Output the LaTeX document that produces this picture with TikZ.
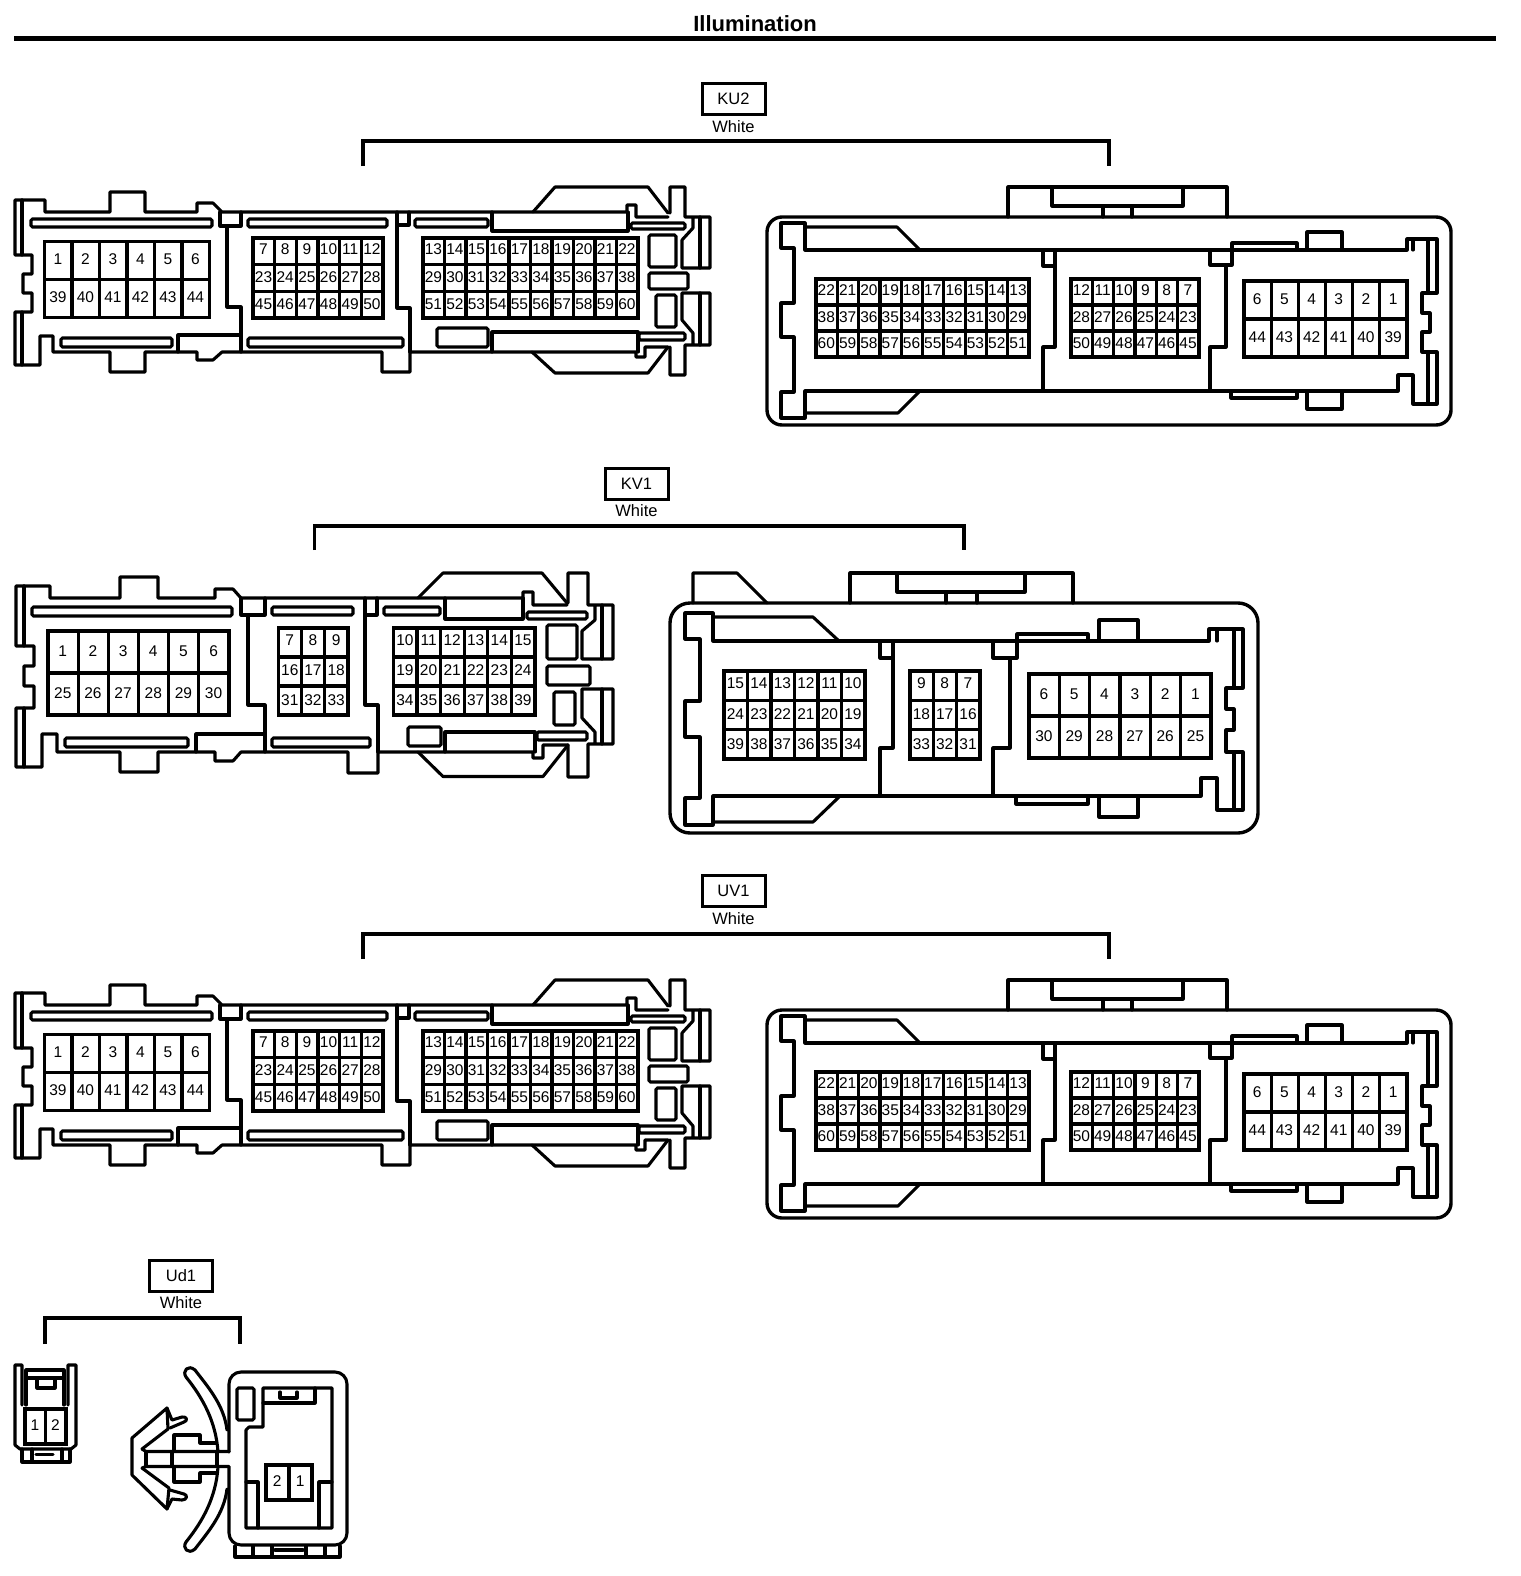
\documentclass[tikz,border=0pt]{standalone}
\usepackage{fontspec}
\setmainfont{Liberation Sans}
\tikzset{
  ln/.style={line width=3.1pt,line join=round,line cap=round},
  slot/.style={line width=3.1pt,rounded corners=1.5pt},
  outerbox/.style={line width=3.4pt,rounded corners=#1},
  pinframe/.style={line width=3.2pt,line join=miter},
  pinlabel/.style={inner sep=0pt,font=\fontsize{15.5}{16}\selectfont},
  tagbox/.style={draw,line width=3pt,minimum width=63pt,minimum height=31pt,inner sep=0pt,font=\fontsize{16.5}{17}\selectfont},
  tagnote/.style={inner sep=0pt,font=\fontsize{16.5}{17}\selectfont},
  bracketline/.style={line width=3.2pt,line join=miter},
}
\newcommand\pinblk[8]{%
  \draw[pinframe] (#2,#3) rectangle (#4,#5);
  \pgfmathsetmacro\pdx{(#4-#2)/#6}
  \pgfmathsetmacro\pdy{(#5-#3)/#7}
  \pgfmathtruncatemacro\pcm{#6-1}
  \pgfmathtruncatemacro\prm{#7-1}
  \foreach \k in {1,...,\pcm} \draw[pinframe] ({#2+\k*\pdx},#3) -- ({#2+\k*\pdx},#5);
  \foreach \k in {1,...,\prm} \draw[pinframe] (#2,{#3+\k*\pdy}) -- (#4,{#3+\k*\pdy});
  \foreach \t [count=\i from 0] in {#8} {
    \pgfmathtruncatemacro\pcc{mod(\i,#6)}
    \pgfmathtruncatemacro\prr{int(\i/#6)}
    \pgfmathsetmacro\pyy{#3+(\prr+.5)*\pdy-1+(#7==3)*((\prr==0)*(-1.2)+(\prr==2)*0.6)}
    \node[pinlabel] (#1-\t) at ({#2+(\pcc+.5)*\pdx-0.3},\pyy) {\t};
  }
}
\newcommand\kuleft[1]{%
  \draw[ln] (22,200)--(15,200)--(15,255)--(32,255)--(32,274)--(23,274)--(23,293)--(32,293)--(32,312)--(15,312)--(15,365)--(40,365)--(40,336)--(53,336)--(53,352)--(110,352)--(110,372)--(145,372)--(145,352)--(197,352)--(197,360)--(213,360)--(222,352)--(382,352)--(382,372)--(410,372)--(410,352)--(636,352)--(636,357)--(645,357)--(645,347)--(668,347);
  \draw[ln] (22,200)--(45,200)--(45,212)--(110,212)--(110,192)--(145,192)--(145,212)--(197,212)--(197,203)--(213,203)--(222,212)--(627,212)--(627,205)--(636,205)--(636,217)--(668,217);
  \draw[ln] (22,200)--(22,255) (22,312)--(22,365);
  \draw[ln] (533,212)--(555,187)--(648,187)--(668,213);
  \draw[ln] (532,352)--(555,373)--(648,373)--(668,347);
  \draw[ln] (670,213)--(670,187)--(685,187)--(685,217)--(710,217)--(710,268)--(682,268)--(682,240)--(693,228)--(693,217);
  \draw[ln] (700,217)--(700,268) (700,293)--(700,345);
  \draw[ln] (693,345)--(693,333)--(682,320)--(682,293)--(710,293)--(710,345)--(685,345)--(685,375)--(670,375)--(670,347);
  \draw[ln] (492,212)--(492,231)--(628,231)--(628,212);
  \draw[ln] (492,352)--(492,332)--(638,332)--(638,352);
  \draw[ln] (220,212)--(220,226)--(241,226)--(241,212);
  \draw[ln] (227,226)--(227,307)--(241,307)--(241,352);
  \draw[ln] (178,352)--(178,335)--(241,335);
  \draw[ln] (397,212)--(397,308)--(410,308)--(410,352);
  \draw[ln] (397,225)--(409,225)--(409,212);
  \draw[slot] (31,219) rectangle (212,227);
  \draw[slot] (61,338) rectangle (172,347);
  \draw[slot] (248,219) rectangle (387,227);
  \draw[slot] (248,338) rectangle (403,347);
  \draw[slot] (415,219) rectangle (488,227);
  \draw[slot] (437,328) rectangle (488,347);
  \draw[slot] (631,223) rectangle (685,229);
  \draw[slot] (639,333) rectangle (685,340);
  \draw[slot] (649,235) rectangle (676,267);
  \draw[slot] (649,273) rectangle (688,289);
  \draw[slot] (656,295) rectangle (676,327);
  \pinblk{#1la}{44.5}{241.5}{209.5}{317.5}{6}{2}{1,2,3,4,5,6,39,40,41,42,43,44}
  \pinblk{#1lb}{253}{238}{383}{318}{6}{3}{7,8,9,10,11,12,23,24,25,26,27,28,45,46,47,48,49,50}
  \pinblk{#1lc}{423}{238}{638}{318}{10}{3}{13,14,15,16,17,18,19,20,21,22,29,30,31,32,33,34,35,36,37,38,51,52,53,54,55,56,57,58,59,60}
}
\newcommand\kuright[1]{%
  \draw[outerbox=15pt] (767,217) rectangle (1451,425);
  \draw[ln] (1008,217)--(1008,187)--(1227,187)--(1227,217);
  \draw[ln] (1052,187)--(1052,206)--(1183,206)--(1183,187);
  \draw[ln] (1103,206)--(1103,217) (1132,206)--(1132,217);
  \draw[ln] (805,250)--(805,223)--(781,223)--(781,248)--(794,248)--(794,303)--(781,303)--(781,337)--(794,337)--(794,392)--(781,392)--(781,418)--(805,418)--(805,391)--(1398,391)--(1398,375)--(1413,375)--(1413,404)--(1437,404)--(1437,352)--(1422,352)--(1422,332)--(1430,332)--(1430,313)--(1422,313)--(1422,293)--(1437,293)--(1437,239)--(1407,239)--(1407,250)--cycle;
  \draw[ln] (1413,239)--(1413,250);
  \draw[ln] (1428,239)--(1428,293) (1428,352)--(1428,404);
  \draw[ln] (805,227)--(897,227)--(920,250);
  \draw[ln] (805,413)--(898,413)--(920,391);
  \draw[ln] (1043,250)--(1043,266)--(1055,266);
  \draw[ln] (1055,250)--(1055,347)--(1043,347)--(1043,391);
  \draw[ln] (1210,250)--(1210,265)--(1232,265)--(1232,243)--(1297,243)--(1297,250);
  \draw[ln] (1226,265)--(1226,347)--(1210,347)--(1210,391);
  \draw[ln] (1307,250)--(1307,232)--(1342,232)--(1342,250);
  \draw[ln] (1231,391)--(1231,398)--(1297,398)--(1297,391);
  \draw[ln] (1307,391)--(1307,409)--(1342,409)--(1342,391);
  \pinblk{#1ra}{816}{279}{1029}{357}{10}{3}{22,21,20,19,18,17,16,15,14,13,38,37,36,35,34,33,32,31,30,29,60,59,58,57,56,55,54,53,52,51}
  \pinblk{#1rb}{1071}{279}{1199}{357}{6}{3}{12,11,10,9,8,7,28,27,26,25,24,23,50,49,48,47,46,45}
  \pinblk{#1rc}{1244}{281}{1407}{357}{6}{2}{6,5,4,3,2,1,44,43,42,41,40,39}
}
\begin{document}
\begin{tikzpicture}[x=1pt,y=-1pt]
\useasboundingbox (0,0) rectangle (1520,1576);
\fill[white] (0,0) rectangle (1520,1576);
% title
\node[inner sep=0pt,font=\fontsize{22}{22}\selectfont\bfseries] (title) at (755,24) {Illumination};
\draw[line width=5pt] (14,38.5) -- (1496,38.5);
% KU2
\node[tagbox] (ku2) at (733.5,99) {KU2};
\node[tagnote] (ku2note) at (733.5,127) {White};
\draw[bracketline] (363,166)--(363,141)--(1109,141)--(1109,166);
\kuleft{ku}
\kuright{ku}
% KV1
\node[tagbox] (kv1) at (636.5,483.5) {KV1};
\node[tagnote] (kv1note) at (636.5,511) {White};
\draw[bracketline] (314.5,550)--(314.5,526)--(964,526)--(964,550);
\draw[ln] (24,586)--(16,586)--(16,646)--(34,646)--(34,666)--(24,666)--(24,686)--(34,686)--(34,708)--(16,708)--(16,767)--(42,767)--(42,734)--(57,734)--(57,752)--(120,752)--(120,772)--(158,772)--(158,752)--(215,752)--(215,761)--(233,761)--(241,752)--(348,752)--(348,773)--(378,773)--(378,752)--(533,752)--(533,758)--(543,758)--(543,745)--(568,745);
\draw[ln] (24,586)--(50,586)--(50,598)--(120,598)--(120,577)--(158,577)--(158,598)--(215,598)--(215,589)--(233,589)--(241,598)--(523,598)--(523,592)--(533,592)--(533,605)--(567,605);
\draw[ln] (24,586)--(24,646) (24,708)--(24,767);
\draw[ln] (418,598)--(443,573)--(542,573)--(567,603);
\draw[ln] (418,752)--(443,776.5)--(543,776.5)--(568,745);
\draw[ln] (568,603)--(568,573)--(588,573)--(588,605)--(613,605)--(613,659)--(582,659)--(582,631)--(595,620)--(595,605);
\draw[ln] (602,605)--(602,659) (602,689)--(602,744);
\draw[ln] (595,744)--(595,732)--(582,718)--(582,689)--(613,689)--(613,744)--(588,744)--(588,777)--(568,777)--(568,745);
\draw[ln] (445,598)--(445,619)--(523,619)--(523,598);
\draw[ln] (445,752)--(445,732)--(535,732)--(535,752);
\draw[ln] (241,598)--(241,615)--(265,615)--(265,598);
\draw[ln] (248,615)--(248,705)--(265,705)--(265,752);
\draw[ln] (196,752)--(196,734)--(265,734);
\draw[ln] (365,598)--(365,705)--(378,705)--(378,752);
\draw[ln] (365,615)--(377,615)--(377,598);
\draw[slot] (32,607) rectangle (232,616);
\draw[slot] (65,738) rectangle (188,747);
\draw[slot] (272,607) rectangle (353,615);
\draw[slot] (272,738) rectangle (370,747);
\draw[slot] (384,607) rectangle (440,615);
\draw[slot] (408,727) rectangle (441,746);
\draw[slot] (527,612) rectangle (587,619);
\draw[slot] (537,732) rectangle (587,740);
\draw[slot] (547,625) rectangle (577,659);
\draw[slot] (547,666) rectangle (590,685);
\draw[slot] (554,692) rectangle (575,725);
\pinblk{kvla}{48}{631}{229}{715}{6}{2}{1,2,3,4,5,6,25,26,27,28,29,30}
\pinblk{kvlb}{278.5}{628}{348}{715}{3}{3}{7,8,9,16,17,18,31,32,33}
\pinblk{kvlc}{393.5}{628}{535}{715}{6}{3}{10,11,12,13,14,15,19,20,21,22,23,24,34,35,36,37,38,39}
% KV1 right
\draw[outerbox=20pt] (670,603) rectangle (1258,833);
\draw[ln] (693,603)--(693,573)--(737,573)--(767,603);
\draw[ln] (850,603)--(850,573)--(1073,573)--(1073,603);
\draw[ln] (897,573)--(897,592)--(1025,592)--(1025,573);
\draw[ln] (946,592)--(946,603) (977,592)--(977,603);
\draw[ln] (713,641)--(713,613)--(685,613)--(685,639)--(700,639)--(700,701)--(685,701)--(685,737)--(700,737)--(700,798)--(685,798)--(685,825)--(713,825)--(713,796)--(1201,796)--(1201,778)--(1217,778)--(1217,810)--(1243,810)--(1243,752)--(1226,752)--(1226,730)--(1234,730)--(1234,709)--(1226,709)--(1226,688)--(1243,688)--(1243,629)--(1209,629)--(1209,641)--cycle;
\draw[ln] (1217,629)--(1217,641);
\draw[ln] (1234,629)--(1234,688) (1234,752)--(1234,810);
\draw[ln] (713,617)--(813,617)--(839,641);
\draw[ln] (713,822)--(813,822)--(840,796);
\draw[ln] (880,641)--(880,658)--(893,658);
\draw[ln] (893,641)--(893,748)--(880,748)--(880,796);
\draw[ln] (993,641)--(993,658)--(1017,658)--(1017,634)--(1088,634)--(1088,641);
\draw[ln] (1010,658)--(1010,748)--(993,748)--(993,796);
\draw[ln] (1099,641)--(1099,620)--(1138,620)--(1138,641);
\draw[ln] (1016,796)--(1016,804)--(1088,804)--(1088,796);
\draw[ln] (1099,796)--(1099,817)--(1138,817)--(1138,796);
\pinblk{kvra}{724}{671}{865}{759}{6}{3}{15,14,13,12,11,10,24,23,22,21,20,19,39,38,37,36,35,34}
\pinblk{kvrb}{910}{671}{980}{759}{3}{3}{9,8,7,18,17,16,33,32,31}
\pinblk{kvrc}{1029}{674}{1211}{758}{6}{2}{6,5,4,3,2,1,30,29,28,27,26,25}
% UV1
\node[tagbox] (uv1) at (733.5,891) {UV1};
\node[tagnote] (uv1note) at (733.5,919) {White};
\draw[bracketline] (363,959)--(363,934)--(1109,934)--(1109,959);
\begin{scope}[yshift=-793pt]
\kuleft{uv}
\kuright{uv}
\end{scope}
% Ud1
\node[tagbox] (ud1) at (181,1275.5) {Ud1};
\node[tagnote] (ud1note) at (181,1303) {White};
\draw[bracketline] (45,1344)--(45,1318)--(240,1318)--(240,1344);
% small plug
\draw[ln] (22,1405)--(22,1365)--(15,1365)--(15,1445)--(20,1449)--(71,1449)--(76,1445)--(76,1365)--(68,1365)--(68,1405);
\draw[ln] (26,1405)--(26,1370)--(64,1370)--(64,1405);
\draw[ln] (26,1378)--(64,1378);
\draw[ln] (37,1380)--(37,1388)--(55,1388)--(55,1380);
\draw[ln] (22,1449)--(22,1462)--(70,1462)--(70,1449);
\draw[ln] (32,1449)--(32,1462) (62,1449)--(62,1462) (36,1454.5)--(53,1454.5);
\pinblk{uda}{25}{1409}{66}{1444}{2}{1}{1,2}
% right connector
\draw[ln,rounded corners=12pt] (229,1452)--(229,1372)--(347,1372)--(347,1545)--(229,1545)--(229,1467);
\draw[ln] (263,1427)--(263,1388)--(332,1388)--(332,1528)--(246,1528)--(246,1430)--(249,1427)--(263,1427);
\draw[ln] (263,1403)--(315,1403)--(315,1388);
\draw[ln] (280,1392)--(280,1398)--(297,1398)--(297,1392);
\draw[slot] (237,1388) rectangle (254,1420);
\draw[ln] (246,1482)--(258,1482)--(258,1528);
\draw[ln] (332,1482)--(319,1482)--(319,1528);
\draw[ln] (235,1546)--(235,1557)--(340,1557)--(340,1546);
\draw[ln] (253,1546)--(253,1557) (272,1546)--(272,1557) (306,1546)--(306,1557) (325,1546)--(325,1557) (275,1550)--(303,1550);
\pinblk{udb}{266}{1465}{312}{1500}{2}{1}{2,1}
% clip
\draw[ln] (142,1449)--(168,1429)--(167,1408)--(132,1438)--(132,1475)--(167,1509)--(169,1488)--(142,1468);
\draw[ln] (142,1449)--(146,1451.5)--(229,1451.5);
\draw[ln] (142,1468)--(146,1466.5)--(229,1466.5);
\draw[ln] (146,1451.5)--(146,1466.5) (172,1451.5)--(172,1466.5) (217,1451.5)--(217,1466.5);
\draw[ln] (167,1408)--(172,1420)--(182,1417) .. controls (187,1416) and (188,1421) .. (184,1422)--(170,1428);
\draw[ln] (167,1509)--(172,1499)--(182,1500) .. controls (187,1500) and (188,1495) .. (184,1494)--(170,1490);
\draw[ln] (174,1451.5)--(174,1435)--(200,1435)--(200,1443)--(216,1443);
\draw[ln] (174,1466.5)--(174,1482)--(200,1482)--(200,1473)--(216,1473);
\draw[ln] (218,1452) .. controls (216,1422) and (203,1398) .. (186,1377) .. controls (182,1371) and (188,1364) .. (195,1370) .. controls (208,1387) and (224,1405) .. (227,1430);
\draw[ln] (218,1467) .. controls (216,1497) and (203,1521) .. (186,1542) .. controls (182,1548) and (188,1555) .. (195,1549) .. controls (208,1532) and (224,1514) .. (227,1489);
\end{tikzpicture}
\end{document}
